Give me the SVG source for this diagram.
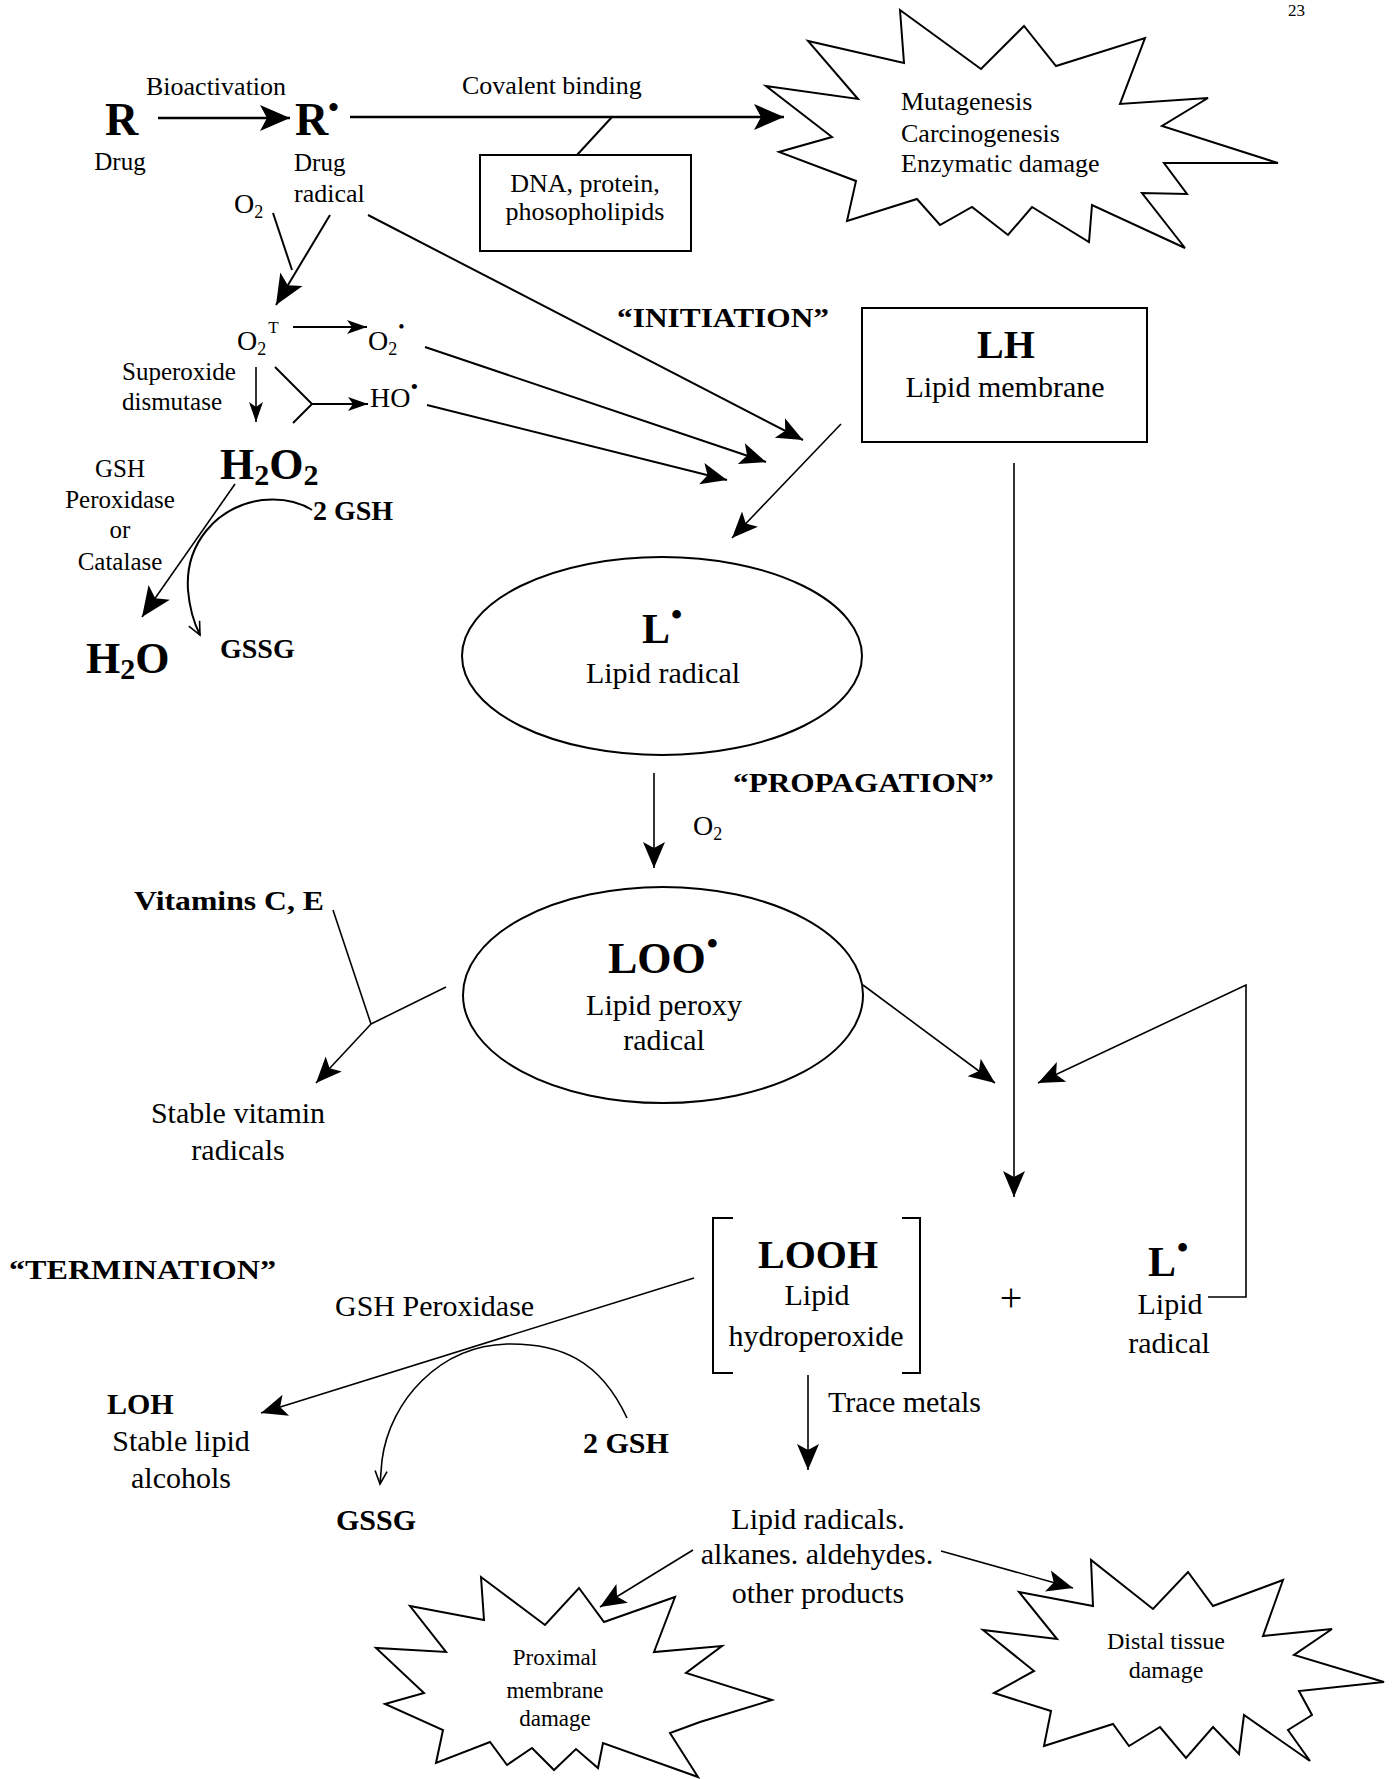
<svg xmlns="http://www.w3.org/2000/svg" width="1393" height="1779" viewBox="0 0 1393 1779">
<style>
text{font-family:"Liberation Serif","Times New Roman",serif;fill:#000}
.b{font-weight:bold}
.s25{font-size:25px}.s26{font-size:26px}.s28{font-size:28px}.s30{font-size:30px}
.c{text-anchor:middle}
.ln{stroke:#000;stroke-width:2;fill:none}
.thick{stroke-width:2.6}
.thin{stroke-width:1.6}
.shape{stroke:#000;stroke-width:2;fill:#fff}
</style>
<defs>
<marker id="big" markerUnits="userSpaceOnUse" markerWidth="32" markerHeight="28" refX="30" refY="13" orient="auto" overflow="visible"><path d="M0,0 L30,13 L0,26 L7,13 z" fill="#000"/></marker>
<marker id="med" markerUnits="userSpaceOnUse" markerWidth="28" markerHeight="24" refX="26" refY="11" orient="auto" overflow="visible"><path d="M0,0 L26,11 L0,22 L6,11 z" fill="#000"/></marker>
<marker id="sm" markerUnits="userSpaceOnUse" markerWidth="22" markerHeight="16" refX="20" refY="7" orient="auto" overflow="visible"><path d="M0,0 L20,7 L0,14 L5,7 z" fill="#000"/></marker>
<marker id="open" markerUnits="userSpaceOnUse" markerWidth="16" markerHeight="14" refX="13" refY="6" orient="auto" overflow="visible"><path d="M0,0 L13,6 L0,12" fill="none" stroke="#000" stroke-width="1.6"/></marker>
</defs>
<rect width="1393" height="1779" fill="#fff"/>
<text x="1288" y="16" font-size="17">23</text>

<g id="connectors">
<line class="ln thick" x1="158" y1="118" x2="290" y2="118" marker-end="url(#big)"/>
<line class="ln thick" x1="350" y1="117" x2="784" y2="117" marker-end="url(#big)"/>
<line class="ln" x1="612" y1="117" x2="577" y2="155"/>
<line class="ln" x1="273" y1="213" x2="292" y2="270"/>
<line class="ln" x1="330" y1="215" x2="276" y2="305" marker-end="url(#big)"/>
<line class="ln" x1="368" y1="215" x2="803" y2="440" marker-end="url(#med)"/>
<line class="ln" x1="293" y1="327" x2="367" y2="327" marker-end="url(#sm)"/>
<line class="ln thin" x1="256" y1="367" x2="256" y2="422" marker-end="url(#sm)"/>
<polyline class="ln" points="275,367 312,404 293,423"/>
<line class="ln" x1="312" y1="404" x2="368" y2="404" marker-end="url(#sm)"/>
<line class="ln" x1="425" y1="347" x2="766" y2="462" marker-end="url(#med)"/>
<line class="ln" x1="427" y1="405" x2="727" y2="480" marker-end="url(#med)"/>
<line class="ln thin" x1="841" y1="424" x2="732" y2="538" marker-end="url(#med)"/>
<line class="ln thin" x1="235" y1="484" x2="142" y2="617" marker-end="url(#big)"/>
<path class="ln" d="M312,510 Q292,497 262,500 C215,507 185,545 188,590 Q190,615 200,635" marker-end="url(#open)"/>
<line class="ln thin" x1="654" y1="773" x2="654" y2="868" marker-end="url(#med)"/>
<line class="ln thin" x1="1014" y1="463" x2="1014" y2="1197" marker-end="url(#med)"/>
<line class="ln thin" x1="863" y1="985" x2="995" y2="1083" marker-end="url(#med)"/>
<path class="ln thin" d="M1208,1297 H1246 V985 L1038,1083" marker-end="url(#med)"/>
<line class="ln thin" x1="333" y1="910" x2="371" y2="1024"/>
<line class="ln thin" x1="446" y1="987" x2="371" y2="1024"/>
<line class="ln thin" x1="371" y1="1024" x2="316" y2="1083" marker-end="url(#med)"/>
<line class="ln thin" x1="694" y1="1278" x2="261" y2="1413" marker-end="url(#med)"/>
<path class="ln thin" d="M627,1418 C600,1360 560,1343 507,1344 C440,1346 390,1400 382,1460 L380,1484" marker-end="url(#open)"/>
<line class="ln thin" x1="808" y1="1375" x2="808" y2="1470" marker-end="url(#med)"/>
<line class="ln thin" x1="693" y1="1550" x2="600" y2="1607" marker-end="url(#med)"/>
<line class="ln thin" x1="941" y1="1551" x2="1073" y2="1588" marker-end="url(#med)"/>
</g>

<g id="label-bioactivation"><text x="146" y="95" class="s26">Bioactivation</text></g>
<g id="label-covalent"><text x="462" y="94" class="s26">Covalent binding</text></g>

<g id="node-R">
<text x="105" y="135" class="b" font-size="46">R</text>
<text x="120" y="170" class="s25 c">Drug</text>
</g>
<g id="node-Rrad">
<text x="295" y="135" class="b" font-size="46">R<tspan font-size="30" dy="-18">•</tspan></text>
<text x="294" y="171" class="s25">Drug</text>
<text x="294" y="202" class="s26">radical</text>
</g>

<g id="node-dna">
<rect x="480" y="155" width="211" height="96" class="shape"/>
<text x="585" y="192" class="s26 c">DNA, protein,</text>
<text x="585" y="220" class="s26 c">phosopholipids</text>
</g>

<g id="node-mutagenesis">
<polygon class="shape" points="900,10 904,63 808,41 858,99 766,86 832,137 779,152 856,181 847,221 917,199 940,225 972,207 1008,235 1032,207 1089,242 1092,205 1185,248 1142,193 1187,194 1164,163 1278,163 1162,126 1208,98 1120,104 1145,38 1056,66 1024,26 981,69"/>
<text x="901" y="110" class="s26">Mutagenesis</text>
<text x="901" y="142" class="s26">Carcinogenesis</text>
<text x="901" y="172" class="s26">Enzymatic damage</text>
</g>

<g id="node-O2a"><text x="234" y="213" class="s28">O<tspan font-size="18" dy="5">2</tspan></text></g>
<g id="node-O2T"><text x="237" y="350" class="s28">O<tspan font-size="18" dy="5">2</tspan><tspan font-size="17" dx="2" dy="-22">T</tspan></text></g>
<g id="node-O2rad"><text x="368" y="350" class="s28">O<tspan font-size="18" dy="5">2</tspan><tspan font-size="18" dx="1" dy="-22">•</tspan></text></g>
<g id="label-sod">
<text x="122" y="380" class="s25">Superoxide</text>
<text x="122" y="410" class="s25">dismutase</text>
</g>
<g id="node-HO"><text x="370" y="407" class="s28">HO<tspan font-size="22" dy="-13">•</tspan></text></g>
<g id="node-H2O2"><text x="220" y="479" class="b" font-size="44">H<tspan font-size="30" dy="6">2</tspan><tspan dy="-6">O</tspan><tspan font-size="30" dy="6">2</tspan></text></g>
<g id="label-gshpx1">
<text x="120" y="477" class="s25 c">GSH</text>
<text x="120" y="508" class="s25 c">Peroxidase</text>
<text x="120" y="538" class="s25 c">or</text>
<text x="120" y="570" class="s25 c">Catalase</text>
</g>
<g id="node-2GSHa"><text x="313" y="520" class="b s28">2 GSH</text></g>
<g id="node-H2O"><text x="86" y="673" class="b" font-size="44">H<tspan font-size="30" dy="6">2</tspan><tspan dy="-6">O</tspan></text></g>
<g id="node-GSSGa"><text x="220" y="658" class="b s28">GSSG</text></g>

<g id="label-initiation"><text x="617" y="327" class="b s28" textLength="212" lengthAdjust="spacingAndGlyphs">“INITIATION”</text></g>

<g id="node-LH">
<rect x="862" y="308" width="285" height="134" class="shape"/>
<text x="1006" y="358" class="b c" font-size="40">LH</text>
<text x="1005" y="397" class="s30 c">Lipid membrane</text>
</g>

<g id="node-Lrad">
<ellipse cx="662" cy="656" rx="200" ry="99" class="shape"/>
<text x="642" y="643" class="b" font-size="42">L<tspan font-size="32" dx="1" dy="-18">•</tspan></text>
<text x="663" y="683" class="s30 c">Lipid radical</text>
</g>

<g id="label-propagation"><text x="733" y="792" class="b s28" textLength="261" lengthAdjust="spacingAndGlyphs">“PROPAGATION”</text></g>
<g id="node-O2b"><text x="693" y="835" class="s28">O<tspan font-size="18" dy="5">2</tspan></text></g>

<g id="node-LOO">
<ellipse cx="663" cy="995" rx="200" ry="108" class="shape"/>
<text x="608" y="973" class="b" font-size="44">LOO<tspan font-size="32" dx="1" dy="-19">•</tspan></text>
<text x="664" y="1015" class="s30 c">Lipid peroxy</text>
<text x="664" y="1050" class="s30 c">radical</text>
</g>

<g id="node-vitamins"><text x="134" y="910" class="b s28" textLength="190" lengthAdjust="spacingAndGlyphs">Vitamins C, E</text></g>
<g id="node-stablevit">
<text x="238" y="1123" class="s30 c">Stable vitamin</text>
<text x="238" y="1160" class="s30 c">radicals</text>
</g>

<g id="label-termination"><text x="9" y="1279" class="b s28" textLength="267" lengthAdjust="spacingAndGlyphs">“TERMINATION”</text></g>

<g id="node-LOOH">
<path class="ln" d="M733,1218 H713 V1373 H733 M902,1218 H920 V1373 H902"/>
<text x="818" y="1268" class="b c" font-size="40">LOOH</text>
<text x="817" y="1305" class="s30 c">Lipid</text>
<text x="816" y="1346" class="s30 c">hydroperoxide</text>
</g>
<g id="label-plus"><text x="1011" y="1311" class="c" font-size="40">+</text></g>
<g id="node-Lrad2">
<text x="1148" y="1276" class="b" font-size="42">L<tspan font-size="32" dx="1" dy="-18">•</tspan></text>
<text x="1170" y="1314" class="s30 c">Lipid</text>
<text x="1169" y="1353" class="s30 c">radical</text>
</g>

<g id="label-gshpx2"><text x="335" y="1316" class="s30">GSH Peroxidase</text></g>
<g id="node-LOH">
<text x="107" y="1414" class="b s30">LOH</text>
<text x="181" y="1451" class="s30 c">Stable lipid</text>
<text x="181" y="1488" class="s30 c">alcohols</text>
</g>
<g id="node-2GSHb"><text x="583" y="1453" class="b s30">2 GSH</text></g>
<g id="node-GSSGb"><text x="336" y="1530" class="b s30">GSSG</text></g>

<g id="label-trace"><text x="828" y="1412" class="s30">Trace metals</text></g>
<g id="node-products">
<text x="818" y="1529" class="s30 c">Lipid radicals.</text>
<text x="817" y="1564" class="s30 c">alkanes. aldehydes.</text>
<text x="818" y="1603" class="s30 c">other products</text>
</g>

<g id="node-proximal">
<polygon class="shape" points="481,1577 484,1620 410,1606 446,1652 376,1648 424,1693 385,1704 443,1730 436,1763 490,1742 507,1765 532,1748 554,1770 576,1749 598,1768 603,1743 698,1777 670,1733 700,1722 772,1700 686,1673 722,1646 654,1652 675,1597 604,1622 579,1588 545,1625"/>
<text x="555" y="1665" class="c" font-size="23">Proximal</text>
<text x="555" y="1698" class="c" font-size="23">membrane</text>
<text x="555" y="1726" class="c" font-size="23">damage</text>
</g>

<g id="node-distal">
<polygon class="shape" points="1091,1560 1093,1606 1019,1592 1057,1639 983,1630 1034,1671 994,1693 1051,1711 1044,1746 1113,1724 1129,1746 1160,1727 1186,1758 1213,1727 1239,1754 1244,1715 1310,1761 1288,1730 1312,1715 1299,1691 1384,1682 1294,1655 1332,1629 1263,1636 1283,1580 1213,1606 1188,1572 1153,1609"/>
<text x="1166" y="1649" class="c" font-size="24">Distal tissue</text>
<text x="1166" y="1678" class="c" font-size="24">damage</text>
</g>
</svg>
